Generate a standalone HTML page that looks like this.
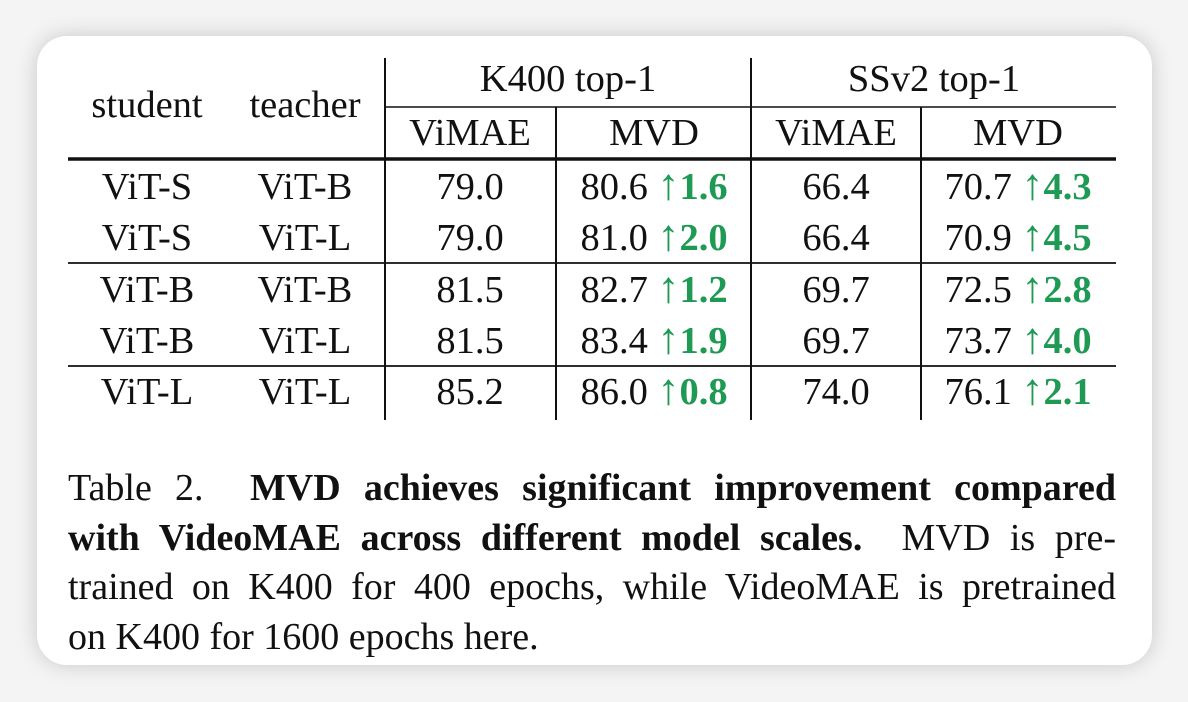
<!DOCTYPE html>
<html><head><meta charset="utf-8"><style>
html,body{margin:0;padding:0;width:1188px;height:702px;background:#f4f4f4;overflow:hidden}
#card{position:absolute;left:37px;top:36px;width:1115px;height:629px;background:#fff;border-radius:30px;box-shadow:0 0 22px rgba(0,0,0,0.18)}
svg{position:absolute;left:0;top:0}
text{font-family:"Liberation Serif","Times New Roman",serif;font-size:38.5px;fill:#111}
.g{fill:#1f9a55}
.b{font-weight:bold}
.ar{font-size:44px;font-weight:normal}
#cap{position:absolute;left:68px;top:464px;width:1048px;font-family:"Liberation Serif","Times New Roman",serif;font-size:38px;line-height:49.5px;color:#111}
#cap .j{text-align:justify;text-align-last:justify;white-space:nowrap}
</style></head><body>
<div id="card"></div>
<svg width="1188" height="702">
<g stroke="#111" fill="none">
<line x1="385" y1="58" x2="385" y2="420" stroke-width="2"/>
<line x1="751" y1="58" x2="751" y2="420" stroke-width="2"/>
<line x1="556" y1="107" x2="556" y2="420" stroke-width="2"/>
<line x1="921" y1="107" x2="921" y2="420" stroke-width="2"/>
<line x1="385" y1="107" x2="1116" y2="107" stroke-width="1.5"/>
<line x1="68" y1="159" x2="1116" y2="159" stroke-width="3.5"/>
<line x1="68" y1="263" x2="1116" y2="263" stroke-width="1.8"/>
<line x1="68" y1="366" x2="1116" y2="366" stroke-width="1.8"/>
</g>
<g text-anchor="middle">
<text x="147" y="117">student</text>
<text x="305" y="117">teacher</text>
<text x="568" y="91">K400 top-1</text>
<text x="934" y="91">SSv2 top-1</text>
<text x="470" y="145">ViMAE</text>
<text x="654" y="145">MVD</text>
<text x="836" y="145">ViMAE</text>
<text x="1018" y="145">MVD</text>
</g>
<g id="rows" text-anchor="middle"></g>
</svg>
<div id="cap">
<div class="j">Table 2.&nbsp; <b>MVD achieves significant improvement compared</b></div>
<div class="j"><b>with VideoMAE across different model scales.</b>&nbsp; MVD is pre-</div>
<div class="j">trained on K400 for 400 epochs, while VideoMAE is pretrained</div>
<div>on K400 for 1600 epochs here.</div>
</div>
<script>
const students=["ViT-S","ViT-S","ViT-B","ViT-B","ViT-L"];
const teachers=["ViT-B","ViT-L","ViT-B","ViT-L","ViT-L"];
const k400Vimae=["79.0","79.0","81.5","81.5","85.2"];
const k400Mvd=["80.6","81.0","82.7","83.4","86.0"];
const k400Gain=["1.6","2.0","1.2","1.9","0.8"];
const ssVimae=["66.4","66.4","69.7","69.7","74.0"];
const ssMvd=["70.7","70.9","72.5","73.7","76.1"];
const ssGain=["4.3","4.5","2.8","4.0","2.1"];
const rowY=[199,250,302,353,404];
const ns="http://www.w3.org/2000/svg";
const g=document.getElementById('rows');
function t(x,y,s,name){const e=document.createElementNS(ns,'text');e.setAttribute('x',x);e.setAttribute('y',y);e.textContent=s;


g.appendChild(e);return e;}
function mixed(x,y,v,gain,name){const e=t(x,y,v+' ',name);const s=document.createElementNS(ns,'tspan');s.setAttribute('class','g ar');s.textContent='↑';e.appendChild(s);const s2=document.createElementNS(ns,'tspan');s2.setAttribute('class','g b');s2.textContent=gain;e.appendChild(s2);}
for(let i=0;i<students.length;i++){const y=rowY[i];
t(147,y,students[i],'student-cell');t(305,y,teachers[i],'teacher-cell');
t(470,y,k400Vimae[i],'k400-vimae-cell');mixed(654,y,k400Mvd[i],k400Gain[i],'k400-mvd-cell');
t(836,y,ssVimae[i],'ssv2-vimae-cell');mixed(1018,y,ssMvd[i],ssGain[i],'ssv2-mvd-cell');}
</script>
</body></html>
